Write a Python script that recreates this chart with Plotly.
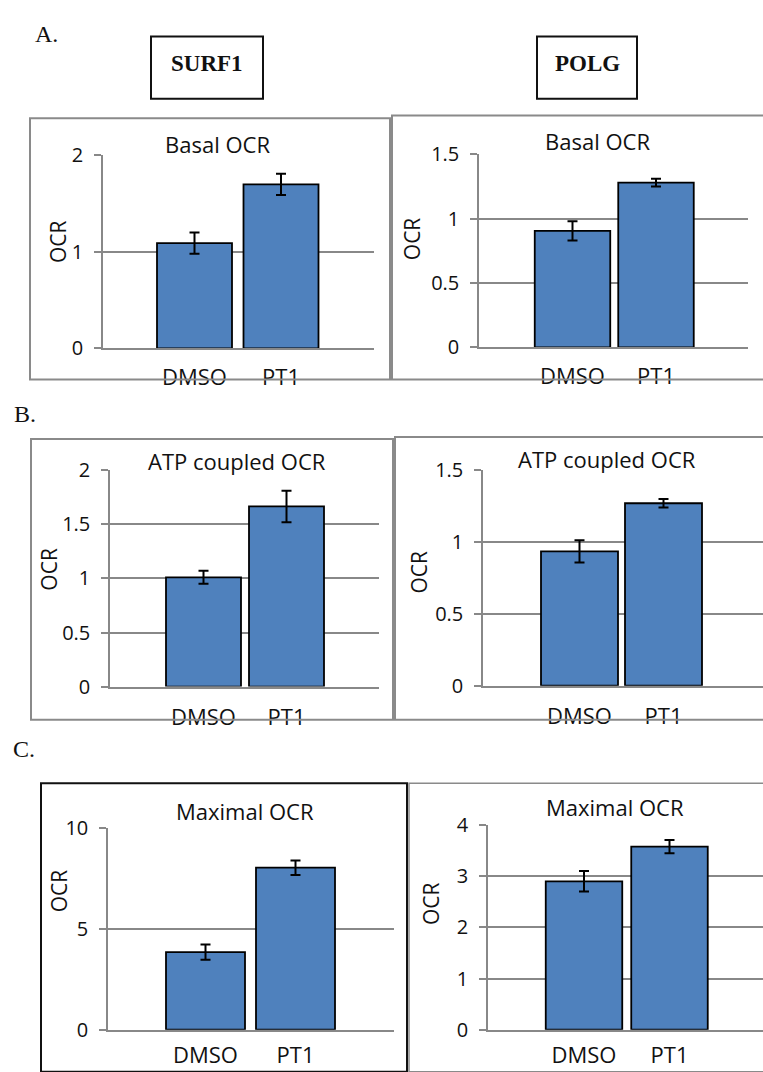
import plotly.graph_objects as go

W, H = 763, 1072

categories = ["DMSO", "PT1"]

# values and error bars (SEM) per panel
surf1_basal = [1.09, 1.70]
surf1_basal_err = [0.11, 0.11]
polg_basal = [0.905, 1.28]
polg_basal_err = [0.075, 0.03]
surf1_atp = [1.01, 1.665]
surf1_atp_err = [0.06, 0.145]
polg_atp = [0.935, 1.27]
polg_atp_err = [0.077, 0.03]
surf1_max = [3.85, 8.03]
surf1_max_err = [0.38, 0.36]
polg_max = [2.90, 3.58]
polg_max_err = [0.20, 0.13]

panel_titles = ["Basal OCR", "Basal OCR", "ATP coupled OCR", "ATP coupled OCR", "Maximal OCR", "Maximal OCR"]
y_max = [2, 1.5, 2, 1.5, 10, 4]
y_dtick = [1, 0.5, 0.5, 0.5, 5, 1]

# layout geometry in pixels: axis left, axis right, zero y, top y, bar centers, bar width
geom = [
    dict(x0=103, x1=374, y0=343, yt=145, c1=194.5, c2=281, w=75, lab=(217, 133), ocr=(58, 234), tls=8),
    dict(x0=479, x1=748, y0=342, yt=144, c1=572.5, c2=656, w=75.5, lab=(597, 130), ocr=(412, 230), tls=8),
    dict(x0=110, x1=379, y0=690, yt=468, c1=203.5, c2=286.5, w=75, lab=(237, 459), ocr=(49, 570), tls=10),
    dict(x0=483, x1=763, y0=689, yt=468, c1=579.5, c2=663.5, w=77, lab=(607, 457), ocr=(419, 573), tls=10),
    dict(x0=108, x1=394, y0=1042, yt=835, c1=205.5, c2=295.5, w=79, lab=(245, 818), ocr=(59, 900), tls=5),
    dict(x0=488, x1=763, y0=1042, yt=832, c1=584, c2=669.5, w=76.5, lab=(615, 813), ocr=(431, 912), tls=5),
]

values = [surf1_basal, polg_basal, surf1_atp, polg_atp, surf1_max, polg_max]
errors = [surf1_basal_err, polg_basal_err, surf1_atp_err, polg_atp_err, surf1_max_err, polg_max_err]

FONT = "Open Sans"
GRID = "#888888"
BLUE = "#4F81BD"
TXT = "#111"

def px(x):
    return x / W

def py(y):
    return 1 - y / H

fig = go.Figure()
layout = dict(width=W, height=H, margin=dict(l=0, r=0, t=0, b=0),
              paper_bgcolor="white", plot_bgcolor="white", showlegend=False,
              font=dict(family=FONT, size=20, color=TXT))
annotations = []
shapes = []

for i, g in enumerate(geom):
    n = "" if i == 0 else str(i + 1)
    unit = g["c2"] - g["c1"]
    xr = [(g["x0"] - g["c1"]) / unit, 1 + (g["x1"] - g["c2"]) / unit]
    fig.add_trace(go.Bar(
        x=categories, y=values[i], width=g["w"] / unit,
        marker=dict(color=BLUE, line=dict(color="black", width=1.8)),
        error_y=dict(type="data", array=errors[i], color="black", thickness=2, width=5),
        xaxis="x" + n, yaxis="y" + n, hoverinfo="skip"))
    layout["xaxis" + n] = dict(domain=[px(g["x0"]), px(g["x1"])], anchor="y" + n,
                               range=xr, showgrid=False, zeroline=False,
                               showline=True, linecolor=GRID, linewidth=1.5,
                               ticks="", ticklabelstandoff=g["tls"],
                               tickfont=dict(family=FONT, size=22, color=TXT),
                               fixedrange=True)
    layout["yaxis" + n] = dict(domain=[py(g["y0"]), py(g["yt"])], anchor="x" + n,
                               range=[0, y_max[i]], dtick=y_dtick[i], tick0=0,
                               showgrid=True, gridcolor=GRID, gridwidth=1.5,
                               zeroline=False, showline=True, linecolor=GRID, linewidth=1.5,
                               ticks="outside", ticklen=7, tickcolor=GRID, tickwidth=1.5,
                               ticklabelstandoff=7,
                               tickfont=dict(family=FONT, size=20, color=TXT),
                               fixedrange=True)
    annotations.append(dict(text=panel_titles[i], x=px(g["lab"][0]), y=py(g["lab"][1]),
                            xref="paper", yref="paper", showarrow=False,
                            xanchor="center", yanchor="middle",
                            font=dict(family=FONT, size=22, color=TXT)))
    annotations.append(dict(text="OCR", x=px(g["ocr"][0]), y=py(g["ocr"][1]),
                            xref="paper", yref="paper", showarrow=False, textangle=-90,
                            xanchor="center", yanchor="middle",
                            font=dict(family=FONT, size=21, color=TXT)))

# panel frames (pixel boxes)
frames = [
    (30, 107, 390, 375, "#8a8a8a", 2),
    (392, 104, 775, 375, "#8a8a8a", 2),
    (31, 436, 393, 724, "#8a8a8a", 2),
    (395, 434, 775, 724, "#8a8a8a", 2),
    (409, 789, 775, 1085, "#8a8a8a", 1.5),
    (41, 789, 407, 1085, "#111111", 2),
]
for x0, y0, x1, y1, c, lw in frames:
    shapes.append(dict(type="rect", xref="paper", yref="paper",
                       x0=px(x0), x1=px(x1), y0=py(y1), y1=py(y0),
                       line=dict(color=c, width=lw), fillcolor="rgba(0,0,0,0)"))

# gene header boxes
for (x0, x1, txt, cx) in [(151, 263, "SURF1", 207), (537, 637, "POLG", 587)]:
    shapes.append(dict(type="rect", xref="paper", yref="paper",
                       x0=px(x0), x1=px(x1), y0=py(87), y1=py(23),
                       line=dict(color="#111", width=2), fillcolor="rgba(0,0,0,0)"))
    annotations.append(dict(text="<b>" + txt + "</b>", x=px(cx), y=py(51),
                            xref="paper", yref="paper", showarrow=False,
                            xanchor="center", yanchor="middle",
                            font=dict(family="Liberation Serif", size=23, color=TXT)))

# section letters
for txt, cx, cy in [("A.", 46, 21), ("B.", 25, 410), ("C.", 24, 754)]:
    annotations.append(dict(text=txt, x=px(cx), y=py(cy), xref="paper", yref="paper",
                            showarrow=False, xanchor="center", yanchor="middle",
                            font=dict(family="Liberation Serif", size=24, color=TXT)))

layout["annotations"] = annotations
layout["shapes"] = shapes
fig.update_layout(**layout)
fig.write_html("out.html", config={"displayModeBar": False},
               post_script="document.body.style.margin='0';document.body.style.overflow='hidden';")
